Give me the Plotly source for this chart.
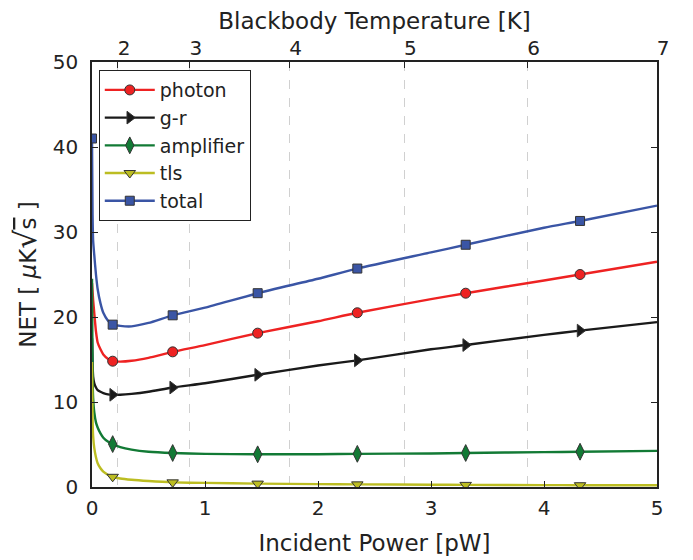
import plotly.graph_objects as go

# ---- data ----
power = [0, 0.005, 0.01, 0.02, 0.035, 0.05, 0.075, 0.1, 0.14, 0.183, 0.25, 0.35, 0.5,
         0.714, 1.0, 1.466, 2.0, 2.348, 3.0, 3.307, 4.0, 4.319, 5.0]
photon = [24, 23, 22, 20.5, 18.3, 17.0, 16.2, 15.6, 15.1, 14.8, 14.75, 14.85, 15.2,
          15.9, 16.7, 18.1, 19.5, 20.5, 22.1, 22.8, 24.3, 25.0, 26.5]
gr = [17.5, 14.5, 13.0, 12.2, 11.7, 11.4, 11.2, 11.05, 10.9, 10.85, 10.85, 10.95, 11.2,
      11.7, 12.2, 13.2, 14.3, 14.9, 16.2, 16.7, 17.9, 18.4, 19.4]
amplifier = [24.5, 13.0, 10.5, 8.8, 7.6, 7.0, 6.3, 5.8, 5.35, 5.05, 4.7, 4.4, 4.15,
             4.0, 3.9, 3.85, 3.85, 3.9, 3.95, 4.0, 4.1, 4.15, 4.25]
tls = [14.7, 8.0, 6.0, 4.6, 3.5, 2.8, 2.2, 1.8, 1.45, 1.2, 1.0, 0.85, 0.7,
       0.55, 0.48, 0.4, 0.34, 0.31, 0.27, 0.25, 0.22, 0.21, 0.2]
total = [41, 32, 29, 27.3, 25.0, 23.3, 21.6, 20.5, 19.6, 19.1, 18.95, 18.9, 19.3,
         20.2, 21.1, 22.8, 24.5, 25.7, 27.6, 28.5, 30.5, 31.3, 33.1]

# marker positions (power values that carry a marker)
marker_power = [0.183, 0.714, 1.466, 2.348, 3.307, 4.319]
marker_power_total = [0] + marker_power

# top axis: blackbody temperature ticks and their position in power
temp_tick_labels = ["2", "3", "4", "5", "6", "7"]
temp_tick_power = [0.23, 0.867, 1.748, 2.765, 3.854, 5.0]

x_ticks = [0, 1, 2, 3, 4, 5]
y_ticks = [0, 10, 20, 30, 40, 50]

FONT = "DejaVu Sans"

series = [
    ("photon", photon, "#ee2222", "circle", 10, marker_power),
    ("g-r", gr, "#1a1a1a", "triangle-right", 11, marker_power),
    ("amplifier", amplifier, "#127a35", "diamond-tall", 12, marker_power),
    ("tls", tls, "#bcbd22", "triangle-down", 10, marker_power),
    ("total", total, "#3a55a5", "square", 9, marker_power_total),
]

fig = go.Figure()

for name, ys, color, sym, size, mx in series:
    fig.add_trace(go.Scatter(x=power, y=ys, mode="lines", name=name,
                             line=dict(color=color, width=2.4, shape="spline",
                                       smoothing=0.6),
                             showlegend=False, legendgroup=name,
                             hoverinfo="skip"))
    xm, ym = [], []
    for p in mx:
        xm += [p, None]
        ym += [ys[power.index(p)], None]
    fig.add_trace(go.Scatter(x=xm, y=ym, mode="lines+markers", name=name,
                             connectgaps=False, legendgroup=name,
                             line=dict(color=color, width=2.4),
                             marker=dict(symbol=sym, size=size, color=color,
                                         line=dict(color="#333333", width=1))))

fig.add_trace(go.Scatter(x=[temp_tick_power[0]], y=[None], xaxis="x2",
                         showlegend=False, hoverinfo="skip"))

y_title = ("NET [ <i>μ</i>K<span style='font-size:30px'>√</span>"
           "<span style='text-decoration:overline'>s</span> ]")

fig.update_layout(
    width=693, height=560,
    margin=dict(l=84, r=44, t=54, b=81, autoexpand=False),
    paper_bgcolor="white", plot_bgcolor="white",
    font=dict(family=FONT, size=20, color="#222222"),
    xaxis=dict(range=[0, 5], tickvals=x_ticks, ticks="inside", ticklen=6,
               tickcolor="#222", showline=True, linecolor="#222", linewidth=1.5,
               showgrid=False, zeroline=False, automargin=False,
               ticklabelstandoff=2,
               title=dict(text="Incident Power [pW]", standoff=16,
                          font=dict(size=23))),
    xaxis2=dict(range=[0, 5], overlaying="x", side="top",
                tickvals=temp_tick_power, ticktext=temp_tick_labels,
                ticks="inside", ticklen=6, tickcolor="#222",
                showline=True, linecolor="#222", linewidth=1.5,
                showgrid=True, gridcolor="#d0d0d0", griddash="dash", gridwidth=1,
                zeroline=False, automargin=False, ticklabelstandoff=-3,
                ticklabelshift=6,
                title=dict(text="Blackbody Temperature [K]", standoff=7,
                           font=dict(size=23))),
    yaxis=dict(range=[0, 50], tickvals=y_ticks, ticks="inside", ticklen=6,
               tickcolor="#222", showline=True, linecolor="#222", linewidth=1.5,
               mirror="ticks", showgrid=False, zeroline=False, automargin=False,
               ticklabelstandoff=8,
               title=dict(text=y_title, standoff=10, font=dict(size=23))),
    legend=dict(x=0.012, y=0.981, xanchor="left", yanchor="top",
                bgcolor="white", bordercolor="#222", borderwidth=1,
                font=dict(size=19, family=FONT), tracegroupgap=0,
                itemwidth=50),
)

fig.write_html("out.html")
